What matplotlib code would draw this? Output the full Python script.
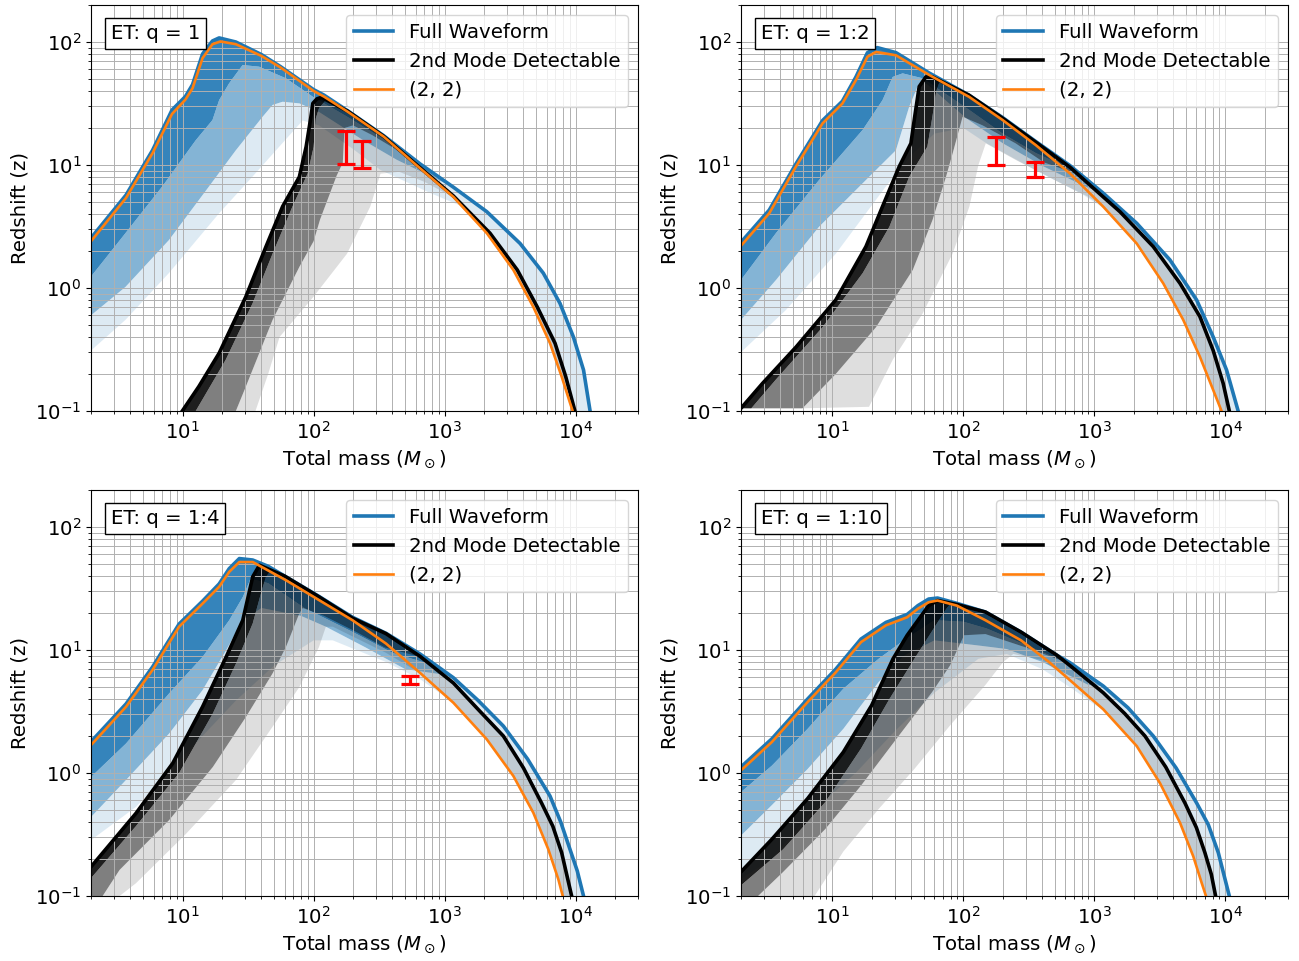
import numpy as np
import matplotlib.pyplot as plt

plt.rcParams['font.size'] = 14.2

# Each curve is a list of (total mass, redshift) points.
# ---------------- ET: q = 1 ----------------
A_full = [(2.0, 2.55), (3.7, 5.7), (5.9, 13.2), (8.3, 28), (10.5, 36), (11.9, 45), (14.2, 80),
          (16.9, 102), (19.0, 108), (25.5, 100), (40, 79), (56, 63), (100, 41), (120, 37),
          (183, 27.5), (343, 17.3), (650, 10.2), (1167, 6.6), (2100, 4.17), (3770, 2.3),
          (5670, 1.32), (7600, 0.75), (9620, 0.4), (11500, 0.215), (12900, 0.1)]
A_mode = [(9.95, 0.1), (13.3, 0.158), (19, 0.295), (30.4, 0.85), (43.3, 2.17), (58, 4.6),
          (77.8, 8.0), (87.7, 14.1), (95, 24), (98.6, 31.7), (106, 34.5), (115, 35.5),
          (183, 27.3), (343, 17.1), (582, 10.5), (1167, 5.6), (2220, 2.79), (3590, 1.4),
          (5100, 0.70), (6970, 0.355), (8410, 0.19), (9880, 0.1)]
A_22 = [(2.0, 2.4), (3.7, 5.4), (5.9, 12.5), (8.3, 26), (10.5, 34), (11.9, 42), (14.2, 74),
        (16.9, 96), (19.5, 101), (25.5, 96), (40, 77), (56, 62), (100, 40), (120, 36),
        (183, 27), (343, 17), (582, 10.4), (1167, 5.5), (2100, 2.79), (3350, 1.4),
        (4760, 0.70), (6380, 0.355), (7830, 0.19), (9070, 0.116), (9500, 0.1)]
A_f1 = [(2, 1.24), (3.66, 2.79), (7, 6.7), (12.6, 15.9), (16.9, 23.2), (19, 33.7), (22.6, 46),
        (28.7, 65), (38.4, 63), (61.5, 50.7), (98.6, 35.9), (183, 24.5), (343, 16.2), (600, 10.4)]
A_f2 = [(2, 0.6), (3.66, 1.02), (7.85, 2.45), (15.9, 6.7), (25.5, 13.2), (40.8, 24.7),
        (48.6, 30.8), (58, 32.7), (78, 31.7), (110, 27), (239, 15.9), (433, 11), (800, 8.0)]
A_f3 = [(2, 0.31), (3.66, 0.55), (7.85, 1.32), (19, 4.05), (34, 8), (54.7, 14.1), (82.6, 23),
        (110, 21), (200, 13.5), (324, 9.1), (782, 5.9), (1300, 4.7)]
A_m1 = [(12.6, 0.1), (21.3, 0.26), (34.2, 0.75), (48.6, 1.9), (69, 4.6), (90, 8.5), (100, 14),
        (104, 24), (110, 29), (125, 34)]
A_m2 = [(25.5, 0.1), (30.4, 0.158), (48.6, 0.55), (78, 1.49), (100, 2.4), (112, 3.6), (150, 8.2),
        (167, 10.4), (172, 20), (200, 21), (280, 17.5), (420, 13.5)]
A_m3 = [(36, 0.1), (45, 0.2), (55, 0.4), (100, 0.85), (180, 1.9), (271, 4.6), (324, 8.5),
        (450, 8.8), (700, 7.3), (1050, 5.8)]
A_err_M = [177, 235]
A_err_lo = [10.1, 9.5]
A_err_hi = [18.9, 15.7]

# ---------------- ET: q = 1:2 ----------------
B_full = [(2, 2.35), (3.29, 4.3), (5.26, 10.2), (8.4, 23), (11.9, 33), (15.1, 52), (18.5, 82),
          (22, 90), (30.5, 82), (54.7, 56), (110, 37), (199, 24.3), (357, 15.5), (649, 9.9),
          (1167, 5.9), (2100, 3.36), (3770, 1.69), (6020, 0.8), (8060, 0.4), (10200, 0.215),
          (12500, 0.1)]
B_mode = [(2, 0.105), (2.93, 0.168), (5.26, 0.33), (10.6, 0.8), (18, 2.17), (24.1, 4.6),
          (32.3, 9.7), (39.7, 15), (42.5, 25), (45.9, 43.4), (51.6, 52), (58, 52), (110, 37),
          (199, 24), (357, 15.3), (649, 9.6), (1167, 5.5), (1565, 4.17), (2810, 2.17),
          (4500, 1.09), (6380, 0.585), (8060, 0.31), (9600, 0.168), (10700, 0.1)]
B_22 = [(2, 2.2), (3.29, 4.05), (5.26, 9.7), (8.4, 21.8), (11.9, 31.6), (15.1, 49), (18.5, 76),
        (21.5, 83), (30.5, 78), (54.7, 54), (110, 35.9), (199, 23.2), (357, 14.5), (649, 8.55),
        (1167, 4.58), (2100, 2.3), (3350, 1.09), (4760, 0.55), (6380, 0.276), (8060, 0.148),
        (9330, 0.1)]
B_f1 = [(2, 1.16), (3.7, 2.79), (7.9, 7.55), (17, 19.3), (24.1, 33.7), (28.8, 52), (34.3, 55.6),
        (48.8, 50.7), (111, 28), (199, 18), (357, 12.5), (700, 9.0)]
B_f2 = [(2, 0.55), (3.7, 1.16), (7.9, 3.15), (19, 8), (30.5, 13.2), (38.5, 29.8), (44.6, 43.4),
        (52, 46), (105, 24), (200, 15), (411, 9.7), (900, 6.5)]
B_f3 = [(2, 0.3), (4.4, 0.66), (10.6, 1.9), (25.6, 6.7), (40, 12), (60, 18), (100, 20),
        (150, 15), (300, 10), (800, 5.8), (1200, 4.4)]
B_m1 = [(2.4, 0.105), (3.7, 0.18), (8.4, 0.48), (17, 1.32), (27.2, 3.15), (38.5, 8), (53, 14.1),
        (58, 25), (62, 40), (66, 48)]
B_m2 = [(5.9, 0.105), (10.6, 0.2), (21.5, 0.48), (41, 1.4), (58, 3.57), (73.5, 8), (82.6, 12.4),
        (98.5, 24.7), (140, 21), (250, 15), (411, 10.5), (700, 8.6)]
B_m3 = [(19, 0.108), (28.8, 0.26), (48.8, 0.62), (82.6, 1.9), (111, 4.6), (130, 10), (148, 15),
        (250, 11), (500, 7.5), (900, 5.5)]
B_err_M = [177, 353]
B_err_lo = [10, 8.0]
B_err_hi = [17, 10.5]

# ---------------- ET: q = 1:4 ----------------
C_full = [(2, 1.8), (3.7, 3.65), (5.9, 7.3), (9.4, 16.3), (14.2, 25), (19, 34.5), (22.7, 46),
          (27.1, 55.5), (34.3, 54), (45, 48), (110, 27.3), (198, 18.5), (357, 13.7), (649, 9.3),
          (1167, 5.96), (1800, 3.9), (2810, 2.41), (4300, 1.3), (6380, 0.65), (7700, 0.4),
          (9060, 0.24), (10300, 0.16), (11500, 0.1)]
C_mode = [(2, 0.173), (4.4, 0.47), (8.4, 1.2), (14.2, 3.46), (21.5, 8.8), (28.8, 17.5),
          (34.3, 39.5), (38.6, 49), (60, 40), (110, 27.1), (198, 18.2), (357, 13.6), (649, 8.9),
          (1167, 5.4), (1800, 3.3), (2810, 2.0), (4000, 1.1), (5500, 0.57), (6700, 0.37),
          (7830, 0.225), (9330, 0.1)]
C_22 = [(2, 1.69), (3.7, 3.46), (5.9, 6.9), (9.4, 15.5), (14.2, 23.9), (19, 32.7), (22.7, 43.3),
        (27.1, 52), (34.3, 52), (61.5, 37), (110, 25.5), (198, 17.5), (357, 11.3), (649, 6.53),
        (1167, 3.73), (2100, 1.88), (3350, 0.946), (4760, 0.475), (6190, 0.24), (7380, 0.137),
        (7980, 0.1)]
C_f1 = [(2, 0.93), (3.7, 1.74), (7.9, 4.45), (14.2, 8.8), (22.7, 17.5), (28.8, 27), (33, 38),
        (45, 35), (85, 22), (200, 14), (400, 9.5), (800, 7.6)]
C_f2 = [(2, 0.44), (3.7, 0.88), (7.9, 2.1), (14.2, 4.73), (21.5, 10), (28.8, 17.5), (40, 22),
        (80, 19), (124, 15.5), (250, 10.5), (500, 7), (1000, 6.3)]
C_f3 = [(2, 0.285), (4.4, 0.53), (10.6, 1.44), (25.6, 3.9), (50, 7.5), (100, 12), (140, 12),
        (357, 8.0), (649, 5.8), (1000, 4.2)]
C_m1 = [(2, 0.14), (4.4, 0.37), (9.4, 1.0), (17, 3.05), (25.6, 7.8), (34.3, 16.5), (40, 30),
        (43.3, 39.5), (47, 44)]
C_m2 = [(2, 0.072), (2.45, 0.1), (3.3, 0.163), (7.9, 0.415), (17, 1.12), (30.5, 2.87),
        (48.6, 6.46), (61.5, 10.6), (77.8, 19.9), (82.6, 22), (120, 19), (200, 14.5),
        (350, 10.5), (600, 9.0)]
C_m3 = [(3.3, 0.1), (4.4, 0.127), (10.6, 0.32), (25.6, 0.88), (48.6, 2.38), (77.8, 5.0),
        (110, 10.6), (124, 15.5), (140, 15.5), (357, 9.5), (700, 6.2)]
C_err_M = [548]
C_err_lo = [5.3]
C_err_hi = [6.18]

# ---------------- ET: q = 1:10 ----------------
D_full = [(2, 1.12), (3.45, 1.9), (6.46, 4.0), (10.6, 7.0), (16.5, 12.3), (25.6, 16.8),
          (37.2, 19.5), (44.9, 23), (54.2, 26), (63.4, 26.5), (89, 24), (147, 20.4), (275, 14),
          (515, 9.1), (649, 7.9), (1167, 5.1), (1800, 3.4), (2810, 2.0), (4200, 1.1),
          (6030, 0.57), (7400, 0.38), (8820, 0.225), (10700, 0.1)]
D_mode = [(2, 0.157), (3.45, 0.29), (6.46, 0.62), (12.1, 1.48), (19.9, 3.55), (29, 8.5),
          (37.2, 13.2), (54.2, 23), (63.4, 25.3), (89, 23.5), (147, 20.4), (275, 14), (515, 9.1),
          (649, 7.5), (1167, 4.5), (1700, 3.05), (2430, 2.0), (3500, 1.12), (4910, 0.57),
          (6000, 0.36), (6970, 0.225), (7800, 0.15), (8410, 0.1)]
D_22 = [(2, 1.05), (3.45, 1.79), (6.46, 3.78), (10.6, 6.6), (16.5, 11.6), (25.6, 15.9),
        (37.2, 18.5), (44.9, 21.7), (54.2, 24.5), (63.4, 25.3), (89, 23), (147, 17.5), (275, 12),
        (450, 8), (649, 5.7), (1167, 3.3), (2100, 1.66), (3160, 0.83), (4500, 0.394),
        (5680, 0.21), (6580, 0.128), (7100, 0.1)]
D_f1 = [(2, 0.7), (3.45, 1.15), (6.46, 2.29), (12.1, 4.85), (22.5, 8.5), (35, 12), (60, 17.5),
        (100, 17), (150, 15), (300, 11), (600, 8.0)]
D_f2 = [(2, 0.31), (3.45, 0.55), (6.46, 1.08), (12.1, 2.29), (22.5, 5.5), (35, 9), (60, 12),
        (130, 10.9), (214, 10.2), (400, 8), (900, 5.2)]
D_f3 = [(2, 0.138), (3.45, 0.2), (6.46, 0.45), (15, 1.0), (30, 2.2), (60, 4.5), (130, 8.5),
        (214, 9.3), (400, 7.0), (649, 5.0), (1000, 3.6)]
D_m1 = [(2, 0.122), (4.2, 0.24), (8.8, 0.58), (16.5, 1.58), (27.2, 4.0), (42.2, 8.5),
        (61.4, 15.9), (74, 21.7), (80, 24)]
D_m2 = [(2, 0.074), (2.7, 0.1), (4.2, 0.157), (8.8, 0.35), (16.5, 0.79), (30.8, 1.9),
        (57.7, 4.56), (79, 7.5), (101, 13.2), (147, 13.5), (300, 10.5), (600, 8.0)]
D_m3 = [(7.3, 0.1), (12.1, 0.23), (22.5, 0.51), (42.2, 1.08), (79, 2.44), (147, 5.2), (201, 8.0),
        (240, 9.3), (400, 8.3), (800, 4.8)]
D_err_M = []
D_err_lo = []
D_err_hi = []

labels = ['ET: q = 1', 'ET: q = 1:2', 'ET: q = 1:4', 'ET: q = 1:10']
panels = [
    (A_full, A_mode, A_22, A_f1, A_f2, A_f3, A_m1, A_m2, A_m3, A_err_M, A_err_lo, A_err_hi),
    (B_full, B_mode, B_22, B_f1, B_f2, B_f3, B_m1, B_m2, B_m3, B_err_M, B_err_lo, B_err_hi),
    (C_full, C_mode, C_22, C_f1, C_f2, C_f3, C_m1, C_m2, C_m3, C_err_M, C_err_lo, C_err_hi),
    (D_full, D_mode, D_22, D_f1, D_f2, D_f3, D_m1, D_m2, D_m3, D_err_M, D_err_lo, D_err_hi),
]


def join(head, line):
    # lower boundary: its own points, then it runs along the given line
    return head + [p for p in line if p[0] > head[-1][0]]


def band(ax, upper, lower, color, alpha):
    pts = np.array(upper + lower[::-1])
    ax.fill(pts[:, 0], pts[:, 1], color=color, alpha=alpha, lw=0)


def xy(curve):
    a = np.array(curve)
    return a[:, 0], a[:, 1]


fig, axes = plt.subplots(2, 2, figsize=(12.99, 9.61))
plt.subplots_adjust(left=0.0701, right=0.9915, bottom=0.0676, top=0.9948,
                    wspace=0.188, hspace=0.195)

for ax, lab, p in zip(axes.flat, labels, panels):
    full, mode, h22, f1, f2, f3, m1, m2, m3, eM, elo, ehi = p
    f1 = join(f1, full)
    f2 = join(f2, full)
    f3 = join(f3, h22)
    m1 = join(m1, mode)
    m2 = join(m2, mode)
    m3 = join(m3, h22)

    band(ax, full, f1, 'tab:blue', 0.9)
    band(ax, f1, f2, 'tab:blue', 0.55)
    band(ax, f2, f3, 'tab:blue', 0.15)
    band(ax, mode, m1, 'k', 0.88)
    band(ax, m1, m2, 'k', 0.5)
    band(ax, m2, m3, 'k', 0.13)

    ax.plot(*xy(full), color='tab:blue', lw=2.6, label='Full Waveform')
    ax.plot(*xy(mode), color='k', lw=2.6, label='2nd Mode Detectable')
    ax.plot(*xy(h22), color='tab:orange', lw=1.9, label='(2, 2)')

    if len(eM):
        lo = np.array(elo)
        hi = np.array(ehi)
        mid = (lo + hi) / 2
        ax.errorbar(eM, mid, yerr=[mid - lo, hi - mid], fmt='none', ecolor='red',
                    elinewidth=2.3, capsize=6.5, capthick=2.3, zorder=5)

    ax.set_xscale('log')
    ax.set_yscale('log')
    ax.set_xlim(2, 3e4)
    ax.set_ylim(0.1, 200)
    ax.grid(True, which='both', lw=0.7)
    ax.set_xlabel(r'Total mass ($M_\odot$)')
    ax.set_ylabel('Redshift (z)')
    ax.legend(loc='upper right')
    ax.text(0.036, 0.953, lab, transform=ax.transAxes, va='top', ha='left',
            bbox=dict(boxstyle='square,pad=0.3', fc='white', ec='black'))

plt.savefig('out.png', dpi=100)
